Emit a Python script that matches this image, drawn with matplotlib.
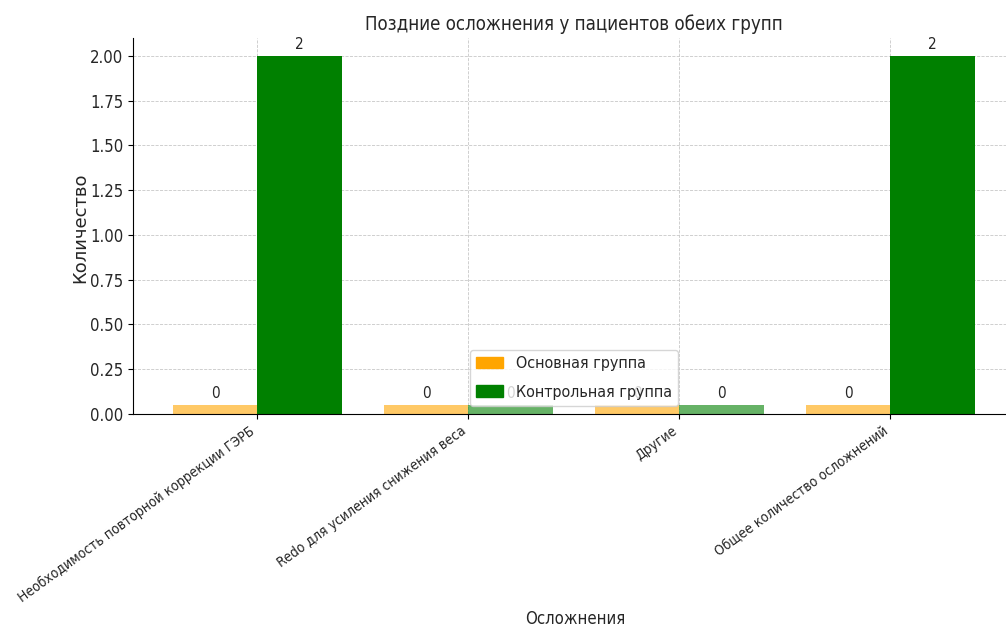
import matplotlib
matplotlib.use("Agg")
import matplotlib.pyplot as plt
from matplotlib.patches import Patch
import numpy as np

# data
categories = ['Необходимость повторной коррекции ГЭРБ',
              'Redo для усиления снижения веса',
              'Другие',
              'Общее количество осложнений']
main_group = [0, 0, 0, 0]
control_group = [2, 0, 0, 2]
series_names = ['Основная группа', 'Контрольная группа']
colors = ['orange', 'green']

plt.rcParams['font.family'] = ['DejaVu Sans']
plt.rcParams['font.stretch'] = 'condensed'
text_col = '#262626'

fig = plt.figure(figsize=(10.06, 6.28), dpi=100)
ax = fig.add_axes([0.1322, 0.3408, 0.8767, 0.5987])

x = np.arange(len(categories))
width = 0.4

# zero values are drawn as a thin faded stub
def draw(vals, offset, color):
    for i, v in enumerate(vals):
        h = v if v > 0 else 0.05
        a = 1.0 if v > 0 else 0.6
        ax.bar(x[i] + offset, h, width, color=color, alpha=a, zorder=2)
        ax.annotate(str(v), (x[i] + offset, h), xytext=(0, 3),
                    textcoords='offset points', ha='center', va='bottom',
                    fontsize=11, color=text_col, zorder=1)

draw(main_group, -width / 2, colors[0])
draw(control_group, width / 2, colors[1])

ax.set_ylim(0, 2.1)
ax.set_xlim(-0.59, 3.59)
ax.set_xticks(x)
ax.set_xticklabels(categories, rotation=36, ha='right', fontsize=10, color=text_col)
ax.tick_params(axis='y', labelsize=12, labelcolor=text_col)
ax.yaxis.set_major_formatter(matplotlib.ticker.FormatStrFormatter('%.2f'))

ax.set_title('Поздние осложнения у пациентов обеих групп', fontsize=13.4, color=text_col)
ax.set_xlabel('Осложнения', fontsize=12, color=text_col)
ax.set_ylabel('Количество', fontsize=13, color=text_col, fontstretch='normal')
ax.xaxis.set_label_coords(0.501, -0.522)
ax.yaxis.set_label_coords(-0.05, 0.495)

ax.grid(True, linestyle='--', color='#c8c8c8', linewidth=0.6)
ax.set_axisbelow(True)
ax.spines['top'].set_visible(False)
ax.spines['right'].set_visible(False)

handles = [Patch(color=c) for c in colors]
leg = ax.legend(handles, series_names, loc='lower center', fontsize=11.5,
                handlelength=1.7, labelspacing=0.85)
for t in leg.get_texts():
    t.set_color(text_col)
leg.set_zorder(5)

fig.savefig('out.png', dpi=100)
